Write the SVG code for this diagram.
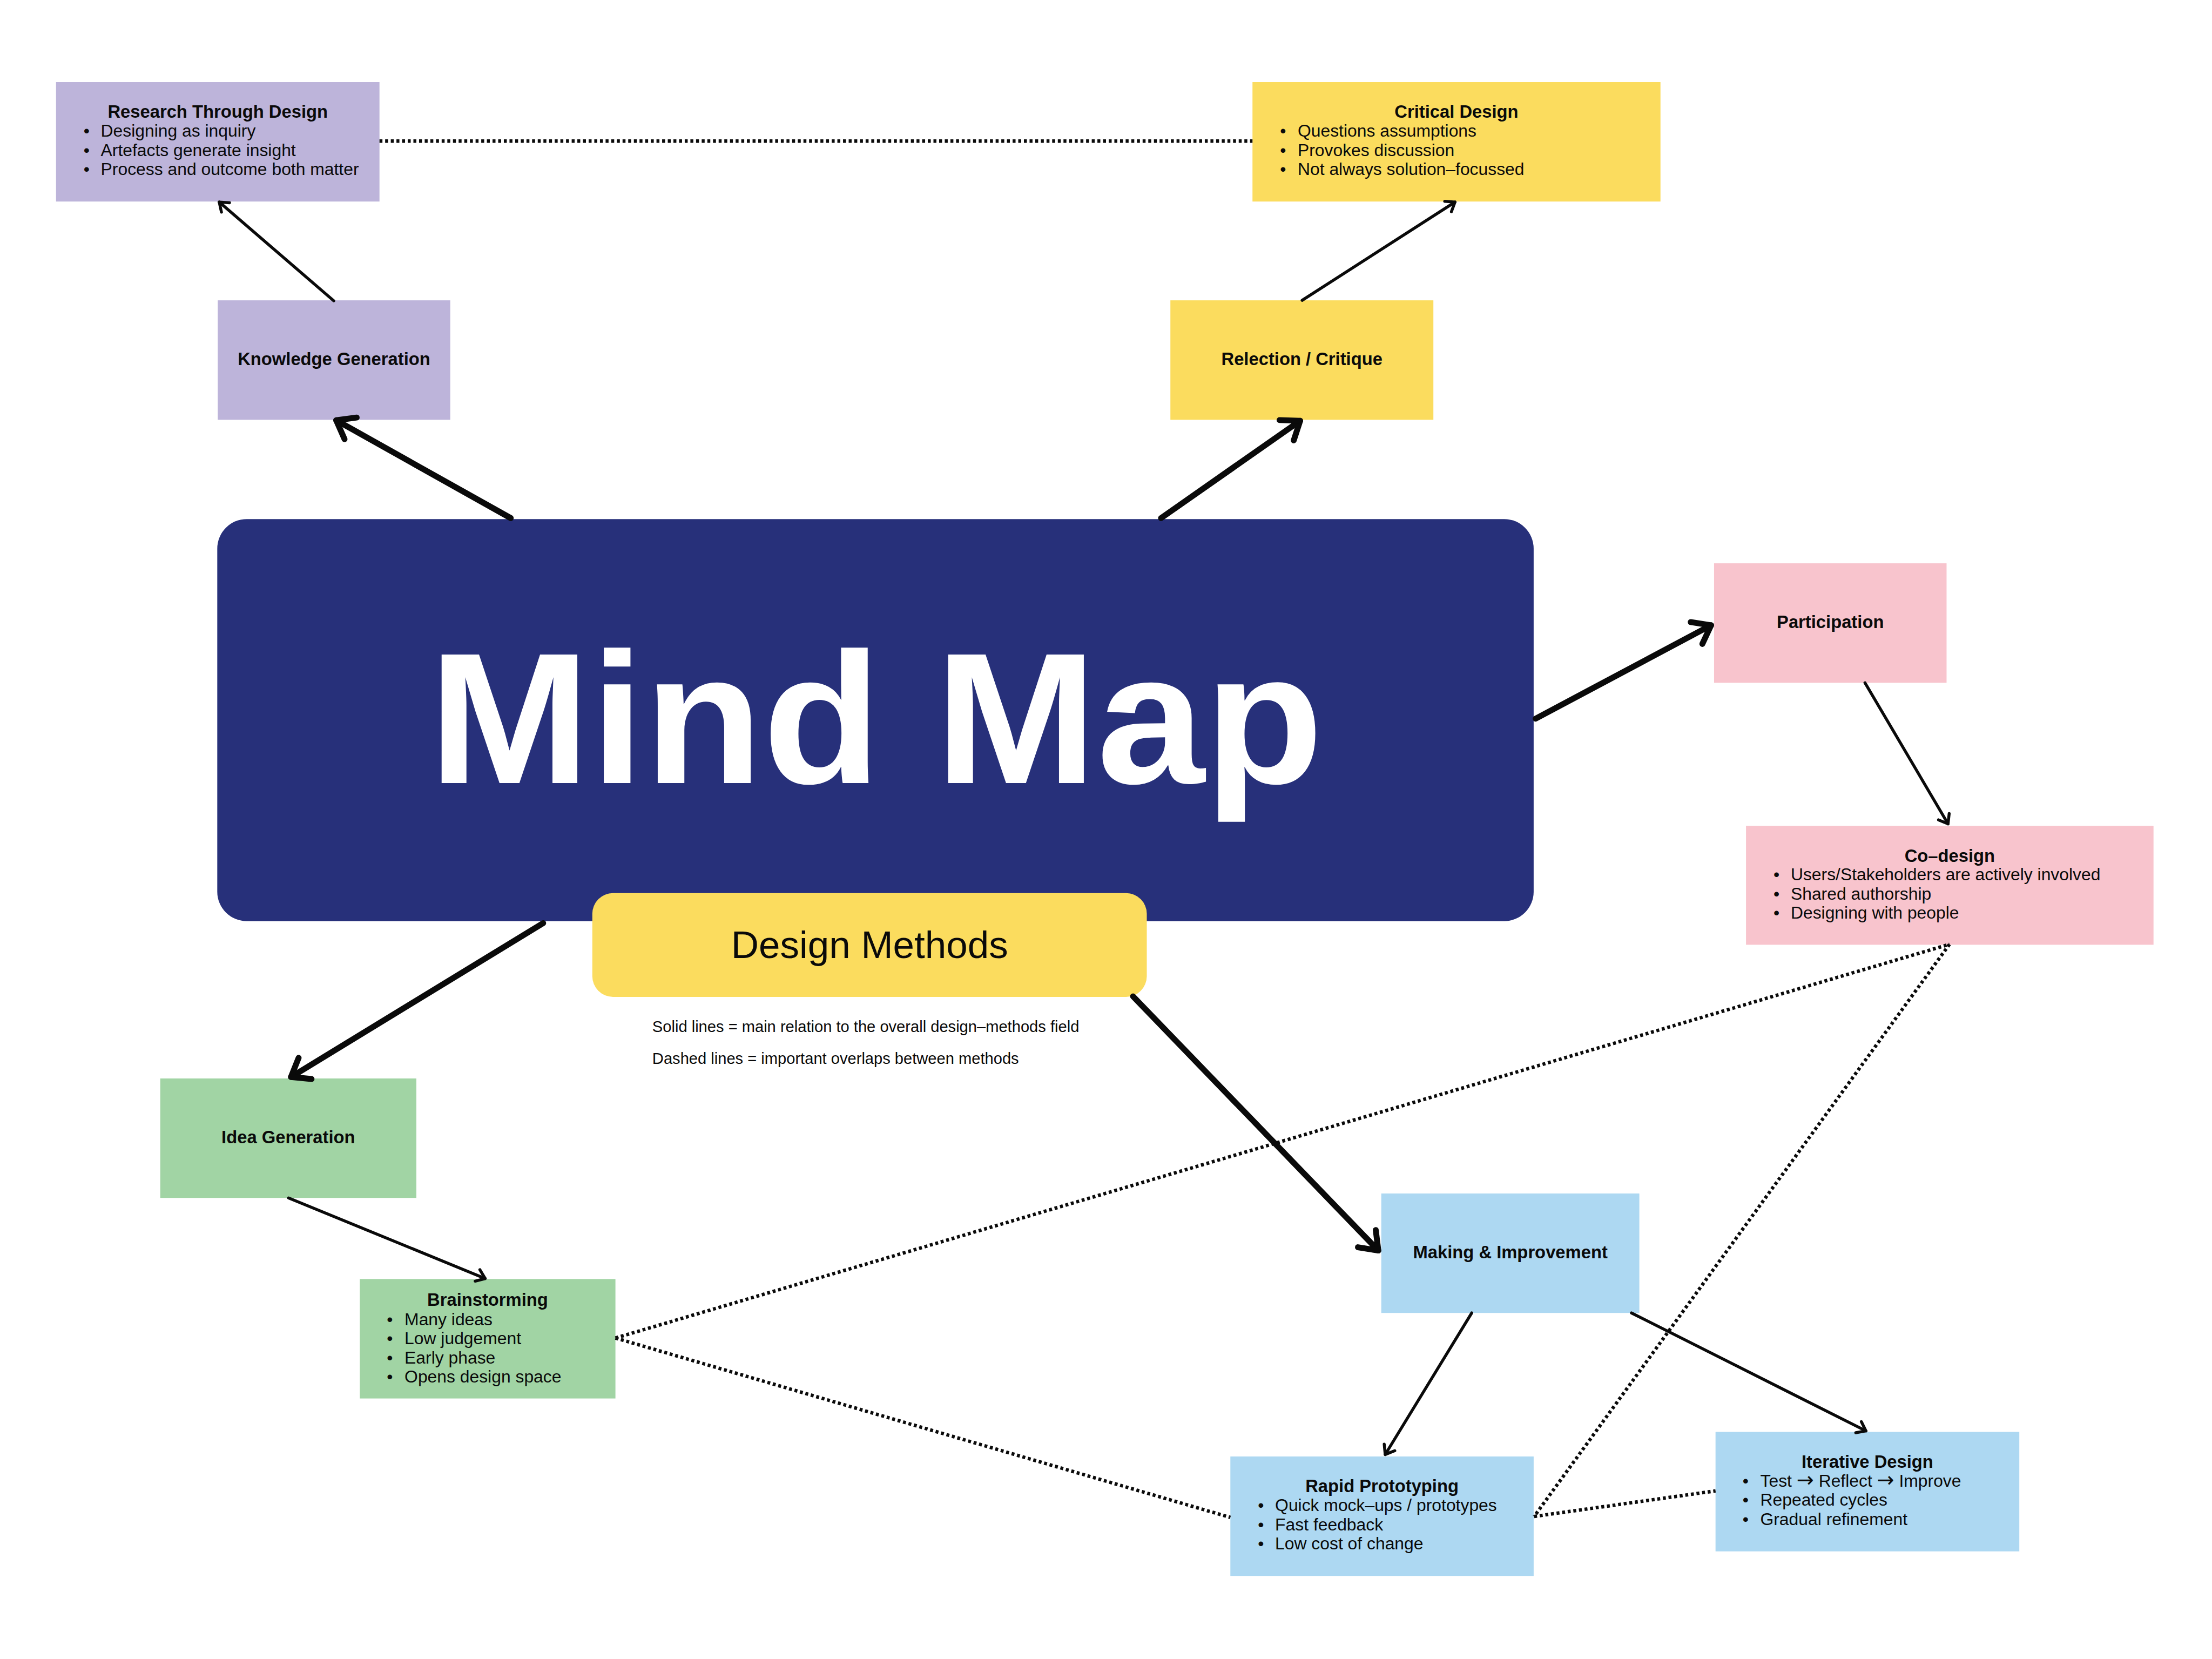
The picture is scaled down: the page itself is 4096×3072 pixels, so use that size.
<svg xmlns="http://www.w3.org/2000/svg" width="4096" height="3072" viewBox="0 0 4096 3072">
<style>
.t{font-family:"Liberation Sans",Arial,sans-serif;fill:#0a0a0a}
.h{font-weight:700;font-size:36px;text-anchor:middle}
.r{font-size:35px}
.lg{font-size:32px}
.arr{font-family:"DejaVu Sans",sans-serif;font-size:42px}
.purple{fill:#BDB4DA}
.yellow{fill:#FBDC5E}
.pink{fill:#F8C4CD}
.green{fill:#A1D4A4}
.blue{fill:#ADD8F2}
.navy{fill:#27307A}
.solid{stroke:#0a0a0a;fill:none;stroke-linecap:round;marker-end:url(#ah)}
.thick{stroke-width:12}
.thin{stroke-width:6}
.dot{stroke:#0a0a0a;fill:none;stroke-width:7;stroke-dasharray:6 5.5}
</style>
<defs>
<marker id="ah" markerUnits="strokeWidth" orient="auto" refX="0" refY="0" markerWidth="8" markerHeight="8" overflow="visible">
<path d="M-2.8,-2.1 L0,0 L-2.8,2.1" fill="none" stroke="#0a0a0a" stroke-width="1" stroke-linecap="round" stroke-linejoin="round"/>
</marker>
</defs>
<rect width="4096" height="3072" fill="#ffffff"/>
<g transform="scale(0.910222)">
<g id="node-central">
<rect class="navy" x="442" y="1056" width="2678" height="818" rx="60"/>
<text x="1782" y="1593" font-family="'Liberation Sans',Arial,sans-serif" font-weight="700" font-size="380" fill="#ffffff" text-anchor="middle" textLength="1820" lengthAdjust="spacingAndGlyphs">Mind Map</text>
</g>
<g id="node-design-methods">
<rect class="yellow" x="1205" y="1817" width="1128" height="211" rx="42"/>
<text class="t" x="1769" y="1949" font-size="78" text-anchor="middle">Design Methods</text>
</g>
<g id="legend">
<text class="t lg" x="1327" y="2100">Solid lines = main relation to the overall design–methods field</text>
<text class="t lg" x="1327" y="2164">Dashed lines = important overlaps between methods</text>
</g>
<g id="node-research-through-design">
<rect class="purple" x="114" y="167" width="658" height="243"/>
<text class="t h" x="443" y="240">Research Through Design</text>
<text class="t r" y="278"><tspan x="170">•</tspan><tspan x="205">Designing as inquiry</tspan></text>
<text class="t r" y="317"><tspan x="170">•</tspan><tspan x="205">Artefacts generate insight</tspan></text>
<text class="t r" y="356"><tspan x="170">•</tspan><tspan x="205">Process and outcome both matter</tspan></text>
</g>
<g id="node-critical-design">
<rect class="yellow" x="2548" y="167" width="830" height="243"/>
<text class="t h" x="2963" y="240">Critical Design</text>
<text class="t r" y="278"><tspan x="2604">•</tspan><tspan x="2640">Questions assumptions</tspan></text>
<text class="t r" y="317"><tspan x="2604">•</tspan><tspan x="2640">Provokes discussion</tspan></text>
<text class="t r" y="356"><tspan x="2604">•</tspan><tspan x="2640">Not always solution–focussed</tspan></text>
</g>
<g id="node-knowledge-generation">
<rect class="purple" x="443" y="611" width="473" height="243"/>
<text class="t h" x="679.5" y="743">Knowledge Generation</text>
</g>
<g id="node-reflection-critique">
<rect class="yellow" x="2381" y="611" width="535" height="243"/>
<text class="t h" x="2648.5" y="743">Relection / Critique</text>
</g>
<g id="node-participation">
<rect class="pink" x="3487" y="1146" width="473" height="243"/>
<text class="t h" x="3723.5" y="1278">Participation</text>
</g>
<g id="node-co-design">
<rect class="pink" x="3552" y="1680" width="829" height="242"/>
<text class="t h" x="3966.5" y="1753">Co–design</text>
<text class="t r" y="1791"><tspan x="3608">•</tspan><tspan x="3643">Users/Stakeholders are actively involved</tspan></text>
<text class="t r" y="1830"><tspan x="3608">•</tspan><tspan x="3643">Shared authorship</tspan></text>
<text class="t r" y="1869"><tspan x="3608">•</tspan><tspan x="3643">Designing with people</tspan></text>
</g>
<g id="node-idea-generation">
<rect class="green" x="326" y="2194" width="521" height="243"/>
<text class="t h" x="586.5" y="2326">Idea Generation</text>
</g>
<g id="node-brainstorming">
<rect class="green" x="732" y="2602" width="520" height="243"/>
<text class="t h" x="992" y="2657">Brainstorming</text>
<text class="t r" y="2696"><tspan x="787">•</tspan><tspan x="823">Many ideas</tspan></text>
<text class="t r" y="2735"><tspan x="787">•</tspan><tspan x="823">Low judgement</tspan></text>
<text class="t r" y="2774"><tspan x="787">•</tspan><tspan x="823">Early phase</tspan></text>
<text class="t r" y="2812"><tspan x="787">•</tspan><tspan x="823">Opens design space</tspan></text>
</g>
<g id="node-making-improvement">
<rect class="blue" x="2810" y="2428" width="525" height="243"/>
<text class="t h" x="3072.5" y="2560">Making &amp; Improvement</text>
</g>
<g id="node-rapid-prototyping">
<rect class="blue" x="2503" y="2963" width="617" height="243"/>
<text class="t h" x="2811.5" y="3036">Rapid Prototyping</text>
<text class="t r" y="3074"><tspan x="2559">•</tspan><tspan x="2594">Quick mock–ups / prototypes</tspan></text>
<text class="t r" y="3113"><tspan x="2559">•</tspan><tspan x="2594">Fast feedback</tspan></text>
<text class="t r" y="3152"><tspan x="2559">•</tspan><tspan x="2594">Low cost of change</tspan></text>
</g>
<g id="node-iterative-design">
<rect class="blue" x="3490" y="2913" width="618" height="243"/>
<text class="t h" x="3799" y="2986">Iterative Design</text>
<text class="t r" y="3024"><tspan x="3545">•</tspan><tspan x="3581">Test </tspan><tspan class="arr">→</tspan><tspan> Reflect </tspan><tspan class="arr">→</tspan><tspan> Improve</tspan></text>
<text class="t r" y="3063"><tspan x="3545">•</tspan><tspan x="3581">Repeated cycles</tspan></text>
<text class="t r" y="3102"><tspan x="3545">•</tspan><tspan x="3581">Gradual refinement</tspan></text>
</g>
<g id="connectors">
<line class="solid thick" x1="1039" y1="1054" x2="684" y2="855"/>
<line class="solid thick" x1="2362" y1="1054" x2="2645" y2="856"/>
<line class="solid thick" x1="3124" y1="1462" x2="3481" y2="1272"/>
<line class="solid thick" x1="1105" y1="1878" x2="592" y2="2191"/>
<line class="solid thick" x1="2305" y1="2027" x2="2804" y2="2544"/>
<line class="solid thin" x1="679" y1="612" x2="446" y2="411"/>
<line class="solid thin" x1="2649" y1="611" x2="2960" y2="411"/>
<line class="solid thin" x1="3794" y1="1389" x2="3963" y2="1676"/>
<line class="solid thin" x1="587" y1="2437" x2="987" y2="2601"/>
<line class="solid thin" x1="2994" y1="2671" x2="2818" y2="2959"/>
<line class="solid thin" x1="3319" y1="2671" x2="3796" y2="2911"/>
<line class="dot" x1="772" y1="287" x2="2548" y2="287"/>
<line class="dot" x1="1252" y1="2722" x2="3966" y2="1921"/>
<line class="dot" x1="3966" y1="1921" x2="3121" y2="3085"/>
<line class="dot" x1="1252" y1="2722" x2="2503" y2="3087"/>
<line class="dot" x1="3121" y1="3085" x2="3490" y2="3033"/>
</g>
</g>
</svg>
